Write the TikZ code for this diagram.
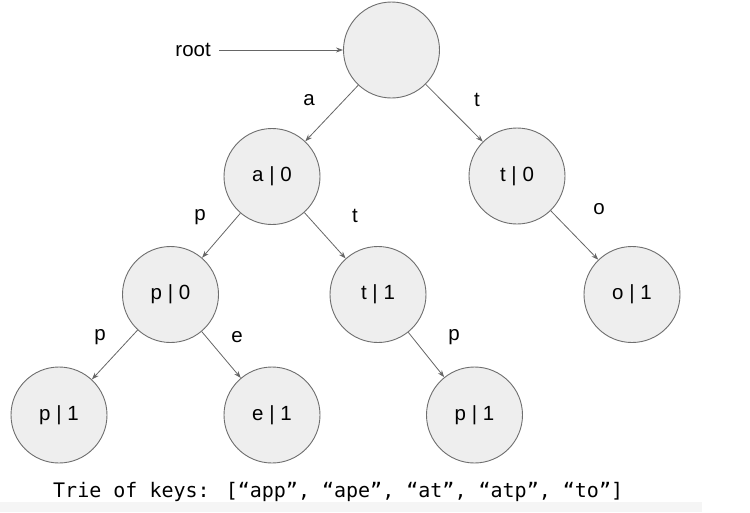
\documentclass[tikz,border=0pt]{standalone}
\usepackage{fontspec}
\setmainfont{Liberation Sans}
\newfontfamily\captionmono{DejaVu Sans Mono}
\usetikzlibrary{arrows.meta}
\definecolor{nodefill}{HTML}{EEEEEE}
\definecolor{nodeline}{HTML}{6E6E6E}
\definecolor{edgeline}{HTML}{666666}
\definecolor{bandgray}{HTML}{F5F5F5}
\tikzset{
  trienode/.style={circle, draw=nodeline, fill=nodefill, line width=0.9pt,
    minimum size=96pt, inner sep=0pt, font=\fontsize{20.5}{24}\selectfont},
  edgelab/.style={font=\fontsize{20.5}{24}\selectfont, inner sep=0pt},
  conn/.style={draw=edgeline, line width=0.8pt, -{Stealth[length=7pt,width=5pt]}}
}
\begin{document}
\begin{tikzpicture}[x=1pt,y=-1pt]
\useasboundingbox (0,0) rectangle (750,512);
\fill[bandgray] (0,502) rectangle (702,512);
% nodes
\node[trienode] (root) at (391.5,50) {};
\node[trienode] (a0) at (272,176.5) {a | 0};
\node[trienode] (t0) at (517,176) {t | 0};
\node[trienode] (p0) at (170.5,294.5) {p | 0};
\node[trienode] (t1) at (378,294.5) {t | 1};
\node[trienode] (o1) at (632,294.5) {o | 1};
\node[trienode] (p1a) at (59,415) {p | 1};
\node[trienode] (e1) at (272,415) {e | 1};
\node[trienode] (p1b) at (474.5,415) {p | 1};
% root pointer
\node[edgelab, anchor=east] (rootlab) at (211,50) {root};
\path (rootlab.east) ++(8pt,0) coordinate (rootstart);
\draw[conn] (rootstart) -- (root);
% edges
\draw[conn] (root) -- (a0);
\draw[conn] (root) -- (t0);
\draw[conn] (a0) -- (p0);
\draw[conn] (a0) -- (t1);
\draw[conn] (t0) -- (o1);
\draw[conn] (p0) -- (p1a);
\draw[conn] (p0) -- (e1);
\draw[conn] (t1) -- (p1b);
% edge labels
\node[edgelab] (la) at (309,100) {a};
\node[edgelab] (lt) at (477,100) {t};
\node[edgelab] (lp1) at (200,217) {p};
\node[edgelab] (lt2) at (355,216) {t};
\node[edgelab] (lo) at (599,209) {o};
\node[edgelab] (lp2) at (100,337) {p};
\node[edgelab] (le) at (237,337) {e};
\node[edgelab] (lp3) at (454,337) {p};
% caption
\node[inner sep=0pt, anchor=base west, font=\captionmono\fontsize{20}{24}\selectfont] (cap) at (53,497) {Trie of keys: [“app”, “ape”, “at”, “atp”, “to”]};
\end{tikzpicture}
\end{document}
